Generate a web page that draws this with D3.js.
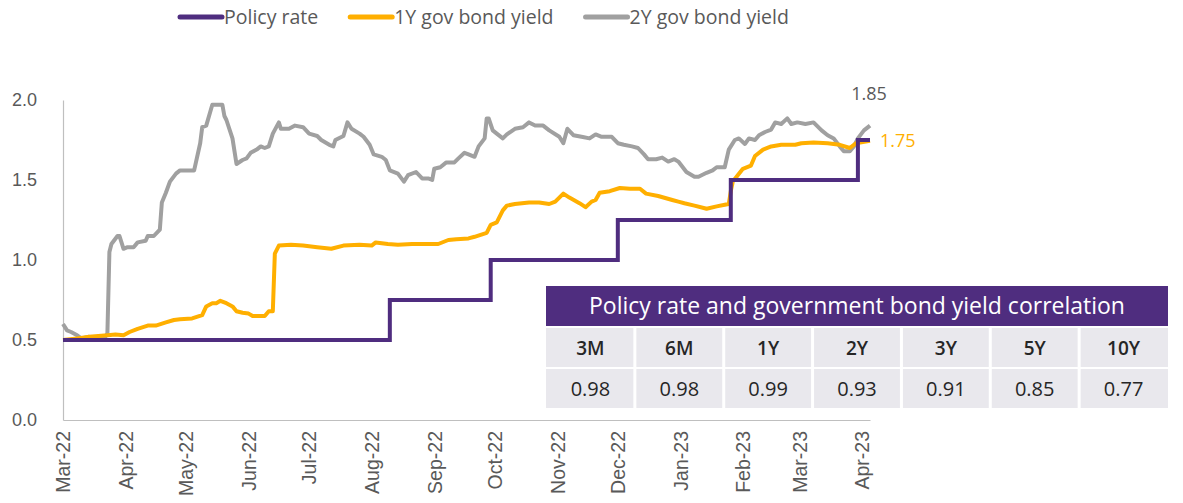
<!DOCTYPE html>
<html>
<head>
<meta charset="utf-8">
<script src="https://cdn.jsdelivr.net/npm/d3@7"></script>
<style>
  body { margin: 0; background: #fff; }
  svg { display: block; font-family: "Open Sans", sans-serif; }
</style>
</head>
<body>
<script>
// chart data
var seriesNames = ["Policy rate", "1Y gov bond yield", "2Y gov bond yield"];
var seriesColors = ["#4F2D7F", "#FFAF00", "#A0A0A0"];

// policy rate: date of each change and the new level
var policyRate = [
  ["2022-03-01", 0.50], ["2022-08-10", 0.75], ["2022-09-29", 1.00],
  ["2022-12-01", 1.25], ["2023-01-26", 1.50], ["2023-03-30", 1.75],
  ["2023-04-05", 1.75]
];

var yield1Y = [
  ["2022-03-01", 0.50], ["2022-03-08", 0.51], ["2022-03-14", 0.52], ["2022-03-23", 0.53],
  ["2022-03-27", 0.535], ["2022-03-31", 0.53], ["2022-04-03", 0.55], ["2022-04-07", 0.57],
  ["2022-04-12", 0.59], ["2022-04-16", 0.59], ["2022-04-21", 0.61], ["2022-04-25", 0.625],
  ["2022-04-28", 0.63], ["2022-05-04", 0.635], ["2022-05-09", 0.655], ["2022-05-11", 0.71],
  ["2022-05-14", 0.73], ["2022-05-16", 0.73], ["2022-05-18", 0.745], ["2022-05-21", 0.73],
  ["2022-05-24", 0.71], ["2022-05-26", 0.68], ["2022-05-29", 0.67], ["2022-06-01", 0.665],
  ["2022-06-03", 0.65], ["2022-06-09", 0.65], ["2022-06-11", 0.68], ["2022-06-13", 0.68],
  ["2022-06-14", 1.04], ["2022-06-16", 1.09], ["2022-06-22", 1.095], ["2022-06-28", 1.09],
  ["2022-07-05", 1.08], ["2022-07-12", 1.07], ["2022-07-18", 1.09], ["2022-07-26", 1.095],
  ["2022-08-01", 1.09], ["2022-08-03", 1.11], ["2022-08-09", 1.10], ["2022-08-14", 1.095],
  ["2022-08-21", 1.10], ["2022-08-27", 1.10], ["2022-09-03", 1.10], ["2022-09-08", 1.125],
  ["2022-09-12", 1.13], ["2022-09-18", 1.135], ["2022-09-21", 1.145], ["2022-09-27", 1.17],
  ["2022-09-29", 1.22], ["2022-10-02", 1.235], ["2022-10-05", 1.31], ["2022-10-07", 1.34],
  ["2022-10-11", 1.35], ["2022-10-18", 1.36], ["2022-10-23", 1.36], ["2022-10-28", 1.35],
  ["2022-10-31", 1.365], ["2022-11-04", 1.415], ["2022-11-07", 1.39], ["2022-11-12", 1.355],
  ["2022-11-15", 1.33], ["2022-11-18", 1.365], ["2022-11-20", 1.375], ["2022-11-22", 1.42],
  ["2022-11-27", 1.43], ["2022-12-02", 1.45], ["2022-12-07", 1.445], ["2022-12-12", 1.445],
  ["2022-12-15", 1.415], ["2022-12-21", 1.40], ["2022-12-28", 1.375], ["2022-12-31", 1.365],
  ["2023-01-03", 1.355], ["2023-01-08", 1.34], ["2023-01-14", 1.32], ["2023-01-19", 1.335],
  ["2023-01-23", 1.345], ["2023-01-25", 1.35], ["2023-01-26", 1.43], ["2023-01-27", 1.49],
  ["2023-02-01", 1.57], ["2023-02-05", 1.59], ["2023-02-07", 1.65], ["2023-02-11", 1.69],
  ["2023-02-15", 1.71], ["2023-02-20", 1.72], ["2023-02-27", 1.72], ["2023-03-02", 1.73],
  ["2023-03-08", 1.735], ["2023-03-15", 1.73], ["2023-03-21", 1.72], ["2023-03-26", 1.70],
  ["2023-03-29", 1.73], ["2023-04-05", 1.745]
];

var yield2Y = [
  ["2022-03-01", 0.60], ["2022-03-03", 0.56], ["2022-03-05", 0.55], ["2022-03-08", 0.53],
  ["2022-03-10", 0.51], ["2022-03-14", 0.52], ["2022-03-16", 0.50], ["2022-03-18", 0.52],
  ["2022-03-22", 0.52], ["2022-03-23", 0.54], ["2022-03-24", 1.05], ["2022-03-25", 1.10],
  ["2022-03-28", 1.15], ["2022-03-29", 1.15], ["2022-03-31", 1.07], ["2022-04-02", 1.08],
  ["2022-04-05", 1.08], ["2022-04-07", 1.11], ["2022-04-11", 1.12], ["2022-04-12", 1.15],
  ["2022-04-15", 1.15], ["2022-04-18", 1.19], ["2022-04-19", 1.36], ["2022-04-21", 1.42],
  ["2022-04-23", 1.49], ["2022-04-26", 1.54], ["2022-04-28", 1.56], ["2022-05-05", 1.56],
  ["2022-05-08", 1.73], ["2022-05-09", 1.83], ["2022-05-11", 1.84], ["2022-05-14", 1.97],
  ["2022-05-19", 1.97], ["2022-05-20", 1.90], ["2022-05-21", 1.875], ["2022-05-24", 1.76],
  ["2022-05-26", 1.60], ["2022-05-29", 1.625], ["2022-05-31", 1.635], ["2022-06-02", 1.67],
  ["2022-06-05", 1.69], ["2022-06-07", 1.71], ["2022-06-09", 1.70], ["2022-06-11", 1.71],
  ["2022-06-13", 1.79], ["2022-06-16", 1.86], ["2022-06-17", 1.82], ["2022-06-21", 1.82],
  ["2022-06-24", 1.84], ["2022-06-28", 1.83], ["2022-07-01", 1.79], ["2022-07-05", 1.775],
  ["2022-07-07", 1.75], ["2022-07-11", 1.72], ["2022-07-13", 1.71], ["2022-07-14", 1.75],
  ["2022-07-18", 1.775], ["2022-07-20", 1.86], ["2022-07-22", 1.82], ["2022-07-26", 1.79],
  ["2022-07-28", 1.77], ["2022-07-31", 1.72], ["2022-08-02", 1.66], ["2022-08-06", 1.645],
  ["2022-08-08", 1.625], ["2022-08-10", 1.56], ["2022-08-14", 1.54], ["2022-08-17", 1.49],
  ["2022-08-19", 1.53], ["2022-08-23", 1.55], ["2022-08-26", 1.51], ["2022-08-29", 1.51],
  ["2022-08-31", 1.50], ["2022-09-01", 1.57], ["2022-09-04", 1.58], ["2022-09-07", 1.61],
  ["2022-09-11", 1.61], ["2022-09-13", 1.635], ["2022-09-16", 1.67], ["2022-09-18", 1.66],
  ["2022-09-21", 1.645], ["2022-09-23", 1.71], ["2022-09-26", 1.76], ["2022-09-27", 1.885],
  ["2022-09-28", 1.885], ["2022-09-30", 1.81], ["2022-10-02", 1.79], ["2022-10-05", 1.76],
  ["2022-10-07", 1.785], ["2022-10-11", 1.82], ["2022-10-15", 1.83], ["2022-10-18", 1.86],
  ["2022-10-21", 1.84], ["2022-10-25", 1.84], ["2022-10-28", 1.81], ["2022-11-02", 1.77],
  ["2022-11-04", 1.73], ["2022-11-06", 1.82], ["2022-11-09", 1.78], ["2022-11-13", 1.77],
  ["2022-11-17", 1.76], ["2022-11-20", 1.785], ["2022-11-23", 1.77], ["2022-11-28", 1.77],
  ["2022-12-01", 1.73], ["2022-12-04", 1.72], ["2022-12-08", 1.71], ["2022-12-11", 1.70],
  ["2022-12-14", 1.66], ["2022-12-16", 1.63], ["2022-12-20", 1.63], ["2022-12-23", 1.64],
  ["2022-12-26", 1.615], ["2022-12-29", 1.63], ["2022-12-31", 1.615], ["2023-01-04", 1.55],
  ["2023-01-08", 1.52], ["2023-01-10", 1.52], ["2023-01-14", 1.545], ["2023-01-17", 1.56],
  ["2023-01-19", 1.58], ["2023-01-23", 1.58], ["2023-01-25", 1.69], ["2023-01-28", 1.75],
  ["2023-01-30", 1.76], ["2023-02-02", 1.725], ["2023-02-04", 1.76], ["2023-02-07", 1.75],
  ["2023-02-09", 1.78], ["2023-02-12", 1.80], ["2023-02-15", 1.815], ["2023-02-17", 1.86],
  ["2023-02-20", 1.85], ["2023-02-23", 1.885], ["2023-02-25", 1.85], ["2023-02-28", 1.86],
  ["2023-03-04", 1.85], ["2023-03-08", 1.86], ["2023-03-12", 1.81], ["2023-03-15", 1.78],
  ["2023-03-18", 1.76], ["2023-03-21", 1.71], ["2023-03-23", 1.68], ["2023-03-26", 1.68],
  ["2023-03-28", 1.71], ["2023-03-30", 1.76], ["2023-04-02", 1.81], ["2023-04-05", 1.84]
];

var yTicks = [0, 0.5, 1.0, 1.5, 2.0];
var endLabels = ["1.85", "1.75"];

var tableTitle = "Policy rate and government bond yield correlation";
var tenors = ["3M", "6M", "1Y", "2Y", "3Y", "5Y", "10Y"];
var correlations = ["0.98", "0.98", "0.99", "0.93", "0.91", "0.85", "0.77"];

var width = 1183, height = 503;
var parse = d3.timeParse("%Y-%m-%d");

var svg = d3.select("body").append("svg")
    .attr("width", width)
    .attr("height", height);

// scales
var x = d3.scaleTime()
    .domain([parse("2022-03-01"), parse("2023-04-05")])
    .range([63, 870]);
var y = d3.scaleLinear().domain([0, 2]).range([420, 100]);

// y axis
var yAxis = svg.append("g")
    .attr("transform", "translate(63,0)")
    .call(d3.axisLeft(y).tickValues(yTicks).tickFormat(d3.format(".1f"))
      .tickSize(0).tickSizeOuter(0).tickPadding(26));
yAxis.select(".domain").attr("stroke", "#BFBFBF").attr("stroke-width", 1.2);
yAxis.selectAll("text").attr("fill", "#595959").style("font-size", "18px");

// x axis
var xAxis = svg.append("g")
    .attr("transform", "translate(0,420)")
    .call(d3.axisBottom(x).ticks(d3.timeMonth.every(1)).tickFormat(d3.timeFormat("%b-%y"))
      .tickSize(0).tickSizeOuter(0));
xAxis.select(".domain").attr("stroke", "#BFBFBF").attr("stroke-width", 1.2);
xAxis.selectAll("text")
    .attr("fill", "#595959")
    .style("font-size", "19.5px")
    .attr("text-anchor", "end")
    .attr("transform", "rotate(-90)")
    .attr("x", -11)
    .attr("y", 0)
    .attr("dy", "0.35em");

// lines
var line = d3.line()
    .x(function(d) { return x(parse(d[0])); })
    .y(function(d) { return y(d[1]); });

svg.append("path")
    .datum(yield2Y)
    .attr("fill", "none")
    .attr("stroke", seriesColors[2])
    .attr("stroke-width", 4)
    .attr("stroke-linejoin", "round")
    .attr("d", line);

svg.append("path")
    .datum(yield1Y)
    .attr("fill", "none")
    .attr("stroke", seriesColors[1])
    .attr("stroke-width", 4)
    .attr("stroke-linejoin", "round")
    .attr("d", line);

svg.append("path")
    .datum(policyRate)
    .attr("fill", "none")
    .attr("stroke", seriesColors[0])
    .attr("stroke-width", 4)
    .attr("d", line.curve(d3.curveStepAfter));

// end labels
var last2Y = yield2Y[yield2Y.length - 1], last1Y = yield1Y[yield1Y.length - 1];
svg.append("text")
    .attr("x", x(parse(last2Y[0])) - 1)
    .attr("y", y(last2Y[1]) - 26)
    .attr("text-anchor", "middle")
    .attr("fill", "#595959")
    .style("font-size", "18px")
    .text(endLabels[0]);
svg.append("text")
    .attr("x", x(parse(last1Y[0])) + 10)
    .attr("y", y(last1Y[1]) + 6)
    .attr("fill", seriesColors[1])
    .style("font-size", "18px")
    .text(endLabels[1]);

// legend
var legend = svg.append("g").attr("transform", "translate(180,17)");
var lx = 0;
seriesNames.forEach(function(name, i) {
  var g = legend.append("g").attr("transform", "translate(" + lx + ",0)");
  g.append("line")
      .attr("x1", 0).attr("x2", 42)
      .attr("stroke", seriesColors[i])
      .attr("stroke-width", 5)
      .attr("stroke-linecap", "round");
  var t = g.append("text")
      .attr("x", 44)
      .attr("dy", "0.35em")
      .attr("fill", "#595959")
      .style("font-size", "19.5px")
      .text(name);
  lx += 44 + t.node().getComputedTextLength() + 32;
});

// correlation table
var tx = 546, tw = 622, cw = tw / tenors.length;
var table = svg.append("g");
table.append("rect")
    .attr("x", tx).attr("y", 286).attr("width", tw).attr("height", 40)
    .attr("fill", "#4F2D7F");
table.append("text")
    .attr("x", tx + tw / 2).attr("y", 306)
    .attr("dy", "0.35em")
    .attr("text-anchor", "middle")
    .attr("fill", "#fff")
    .style("font-size", "23px")
    .text(tableTitle);

[tenors, correlations].forEach(function(row, r) {
  var ry = 328 + r * 41;
  table.selectAll(null)
      .data(row)
      .enter().append("rect")
      .attr("x", function(d, i) { return tx + i * cw + (i ? 1.5 : 0); })
      .attr("y", ry)
      .attr("width", function(d, i) { return cw - (i ? 1.5 : 0) - (i < row.length - 1 ? 1.5 : 0); })
      .attr("height", 39)
      .attr("fill", "#E9E8ED");
  table.selectAll(null)
      .data(row)
      .enter().append("text")
      .attr("x", function(d, i) { return tx + (i + 0.5) * cw; })
      .attr("y", ry + 20)
      .attr("dy", "0.35em")
      .attr("text-anchor", "middle")
      .attr("fill", "#262626")
      .style("font-size", r === 0 ? "19px" : "20px")
      .style("font-weight", r === 0 ? "600" : "normal")
      .text(function(d) { return d; });
});
</script>
</body>
</html>
